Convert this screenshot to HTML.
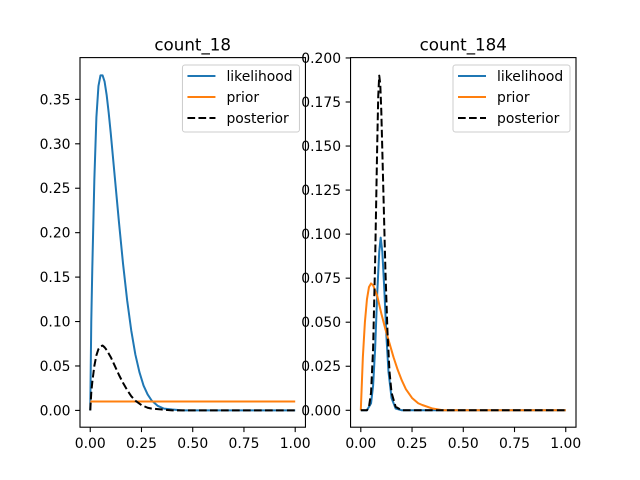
<!DOCTYPE html>
<html><head><meta charset="utf-8"><style>
html,body{margin:0;padding:0;background:#fff;}
svg{display:block;font-family:"DejaVu Sans","Liberation Sans",sans-serif;}
</style></head><body>
<svg id="fig" width="640" height="480" viewBox="0 0 640 480"></svg>
<script>
// ---- data ----
const leftLikeX = [0,0.005,0.01,0.02,0.03,0.04,0.05,0.06,0.07,0.08,0.09,0.1,0.12,0.14,0.16,0.18,0.2,0.22,0.24,0.26,0.28,0.3,0.33,0.36,0.4,0.45,0.5,1];
const leftLikeY = [0,0.1,0.16,0.26,0.33,0.365,0.377,0.377,0.37,0.355,0.335,0.312,0.262,0.212,0.165,0.124,0.09,0.063,0.043,0.028,0.018,0.011,0.005,0.002,0.001,0,0,0];
const leftPriorX = [0,1];
const leftPriorY = [0.01,0.01];
const leftPostX = [0,0.005,0.01,0.02,0.03,0.04,0.05,0.06,0.07,0.08,0.1,0.12,0.14,0.16,0.18,0.2,0.22,0.25,0.28,0.3,0.35,0.4,1];
const leftPostY = [0,0.02,0.032,0.05,0.062,0.069,0.072,0.073,0.071,0.068,0.06,0.05,0.04,0.031,0.023,0.016,0.011,0.006,0.003,0.002,0.001,0,0];
const rightLikeX = [0,0.03,0.05,0.06,0.07,0.08,0.09,0.097,0.105,0.115,0.125,0.135,0.15,0.17,0.2,1];
const rightLikeY = [0,0,0.004,0.014,0.035,0.066,0.09,0.098,0.09,0.068,0.042,0.022,0.007,0.001,0,0];
const rightPriorX = [0,0.01,0.02,0.03,0.04,0.05,0.06,0.07,0.08,0.09,0.1,0.12,0.14,0.16,0.18,0.2,0.22,0.25,0.28,0.3,0.35,0.4,1];
const rightPriorY = [0,0.03,0.05,0.063,0.07,0.072,0.071,0.068,0.065,0.06,0.055,0.046,0.038,0.03,0.023,0.017,0.012,0.007,0.004,0.003,0.001,0,0];
const rightPostX = [0,0.03,0.04,0.05,0.06,0.07,0.08,0.085,0.09,0.095,0.1,0.11,0.12,0.13,0.14,0.15,0.17,0.2,1];
const rightPostY = [0,0,0.002,0.01,0.035,0.085,0.15,0.178,0.19,0.185,0.17,0.125,0.08,0.045,0.022,0.01,0.002,0,0];
const xTicks = [0,0.25,0.5,0.75,1];
const xTickLabels = ["0.00","0.25","0.50","0.75","1.00"];
const leftYTicks = [0,0.05,0.1,0.15,0.2,0.25,0.3,0.35];
const leftYTickLabels = ["0.00","0.05","0.10","0.15","0.20","0.25","0.30","0.35"];
const rightYTicks = [0,0.025,0.05,0.075,0.1,0.125,0.15,0.175,0.2];
const rightYTickLabels = ["0.000","0.025","0.050","0.075","0.100","0.125","0.150","0.175","0.200"];
const legendLabels = ["likelihood","prior","posterior"];

const NS="http://www.w3.org/2000/svg";
const svg=document.getElementById('fig');
function mk(tag,attrs,parent){const e=document.createElementNS(NS,tag);for(const k in attrs)e.setAttribute(k,attrs[k]);(parent||svg).appendChild(e);return e;}

function panel(cfg){
  const g=mk('g',{});
  
  
  const L=cfg.left,R=cfg.left+225.45,T=57.6,B=427.2;
  const sx=v=>L+(v-(-0.05))/(1.1)*(R-L);
  const sy=v=>B-(v-cfg.ymin)/(cfg.ymax-cfg.ymin)*(B-T);
  const series=[
    {x:cfg.likeX,y:cfg.likeY,c:'#1f77b4',d:null,n:'likelihood-line'},
    {x:cfg.priorX,y:cfg.priorY,c:'#ff7f0e',d:null,n:'prior-line'},
    {x:cfg.postX,y:cfg.postY,c:'#000',d:'7.7,3.3',n:'posterior-line'}];
  series.forEach(s=>{
    const pts=s.x.map((v,i)=>sx(v).toFixed(2)+','+sy(s.y[i]).toFixed(2)).join(' ');
    const a={points:pts,fill:'none',stroke:s.c,'stroke-width':2,'stroke-linejoin':'round'};
    if(s.d)a['stroke-dasharray']=s.d;
    const p=mk('polyline',a,g);
    
    
  });
  const frame=mk('rect',{x:L,y:T,width:R-L,height:B-T,fill:'none',stroke:'#000','stroke-width':1.1},g);
  
  
  xTicks.forEach((v,i)=>{
    const x=sx(v);
    mk('line',{x1:x,y1:B,x2:x,y2:B+4.9,stroke:'#000','stroke-width':1.1},g);
    const t=mk('text',{x:x,y:B+21,'font-size':13.9,'text-anchor':'middle',fill:'#000'},g);
    t.textContent=xTickLabels[i];
    
    
  });
  cfg.yTicks.forEach((v,i)=>{
    const y=sy(v);
    mk('line',{x1:L,y1:y,x2:L-4.9,y2:y,stroke:'#000','stroke-width':1.1},g);
    const t=mk('text',{x:L-9.5,y:y+5,'font-size':13.9,'text-anchor':'end',fill:'#000'},g);
    t.textContent=cfg.yLabels[i];
    
    
  });
  const title=mk('text',{x:(L+R)/2,y:T-7,'font-size':16.7,'text-anchor':'middle',fill:'#000'},g);
  title.textContent=cfg.title;
  
  
  // legend
  const lx=R-123, ly=65;
  const lg=mk('g',{},g);
  
  
  mk('rect',{x:lx,y:ly,width:117,height:67,rx:2.5,fill:'#fff','fill-opacity':0.8,stroke:'#ccc','stroke-width':1},lg);
  legendLabels.forEach((lab,i)=>{
    const y=ly+11+i*21;
    const s=series[i];
    const a={x1:lx+5,y1:y,x2:lx+33,y2:y,stroke:s.c,'stroke-width':2};
    if(s.d)a['stroke-dasharray']=s.d;
    mk('line',a,lg);
    const t=mk('text',{x:lx+44,y:y+5,'font-size':13.9,fill:'#000'},lg);
    t.textContent=lab;
    
    
  });
}
panel({name:'left-panel',left:80,ymin:-0.0189,ymax:0.397,title:'count_18',
  likeX:leftLikeX,likeY:leftLikeY,priorX:leftPriorX,priorY:leftPriorY,postX:leftPostX,postY:leftPostY,
  yTicks:leftYTicks,yLabels:leftYTickLabels});
panel({name:'right-panel',left:350.55,ymin:-0.0096,ymax:0.2002,title:'count_184',
  likeX:rightLikeX,likeY:rightLikeY,priorX:rightPriorX,priorY:rightPriorY,postX:rightPostX,postY:rightPostY,
  yTicks:rightYTicks,yLabels:rightYTickLabels});
</script>
</body></html>
